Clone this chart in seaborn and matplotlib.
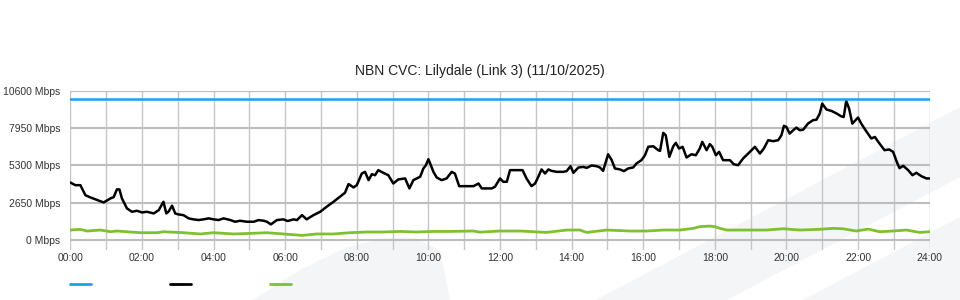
import numpy as np
import pandas as pd
import seaborn as sns
import matplotlib
matplotlib.use("Agg")
import matplotlib.pyplot as plt
from matplotlib.patches import Polygon
from matplotlib.lines import Line2D

sns.set_style("white")
plt.rcParams['font.family'] = ['Liberation Sans', 'DejaVu Sans']

# ---------------- data ----------------
title = "NBN CVC: Lilydale (Link 3) (11/10/2025)"
y_ticks = [0, 2650, 5300, 7950, 10600]
y_tick_labels = ["0 Mbps", "2650 Mbps", "5300 Mbps", "7950 Mbps", "10600 Mbps"]
x_ticks = [0, 2, 4, 6, 8, 10, 12, 14, 16, 18, 20, 22, 24]
x_tick_labels = ["00:00", "02:00", "04:00", "06:00", "08:00", "10:00", "12:00",
                 "14:00", "16:00", "18:00", "20:00", "22:00", "24:00"]

capacity_hours = [0, 24]
capacity_mbps = [10000, 10000]

traffic_hours = [0.00, 0.14, 0.28, 0.42, 0.56, 0.93, 1.12, 1.21, 1.30, 1.37, 1.44, 1.58,
                 1.72, 1.86, 2.00, 2.14, 2.33, 2.47, 2.60, 2.68, 2.74, 2.84, 2.93, 3.02,
                 3.16, 3.30, 3.44, 3.58, 3.72, 3.86, 4.00, 4.14, 4.28, 4.47, 4.60, 4.74,
                 4.93, 5.12, 5.26, 5.40, 5.49, 5.60, 5.77, 5.95, 6.07, 6.23, 6.33, 6.47,
                 6.60, 6.79, 6.98, 7.16, 7.35, 7.53, 7.67, 7.77, 7.91, 8.00, 8.14, 8.23,
                 8.33, 8.42, 8.51, 8.60, 8.74, 8.88, 9.02, 9.16, 9.35, 9.47, 9.58, 9.77,
                 9.86, 9.93, 10.00, 10.05, 10.14, 10.23, 10.37, 10.51, 10.65, 10.74, 10.86,
                 11.07, 11.26, 11.40, 11.49, 11.63, 11.77, 11.86, 12.00, 12.09, 12.19,
                 12.28, 12.47, 12.63, 12.74, 12.88, 12.98, 13.07, 13.16, 13.26, 13.35,
                 13.44, 13.58, 13.77, 13.86, 13.97, 14.05, 14.19, 14.33, 14.42, 14.56,
                 14.70, 14.79, 14.88, 15.02, 15.12, 15.21, 15.35, 15.46, 15.58, 15.72,
                 15.81, 15.95, 16.05, 16.14, 16.28, 16.42, 16.47, 16.56, 16.63, 16.73,
                 16.84, 16.91, 17.00, 17.10, 17.21, 17.35, 17.47, 17.58, 17.65, 17.77,
                 17.86, 17.93, 18.03, 18.12, 18.23, 18.42, 18.53, 18.65, 18.79, 18.98,
                 19.12, 19.26, 19.37, 19.49, 19.63, 19.77, 19.86, 19.93, 20.00, 20.09,
                 20.19, 20.28, 20.37, 20.47, 20.60, 20.74, 20.84, 20.93, 21.00, 21.12,
                 21.26, 21.40, 21.53, 21.60, 21.67, 21.75, 21.84, 22.00, 22.09, 22.21,
                 22.37, 22.47, 22.60, 22.74, 22.87, 22.98, 23.09, 23.16, 23.26, 23.40,
                 23.52, 23.63, 23.77, 23.91, 24.00]
traffic_mbps = [4090, 3900, 3900, 3190, 3030, 2670, 2960, 3050, 3600, 3600, 2960, 2250,
                2010, 2080, 1960, 2010, 1890, 2130, 2720, 1890, 2010, 2440, 1890, 1820,
                1770, 1540, 1470, 1420, 1470, 1540, 1470, 1420, 1540, 1420, 1300, 1370,
                1300, 1300, 1420, 1370, 1300, 1110, 1420, 1470, 1350, 1470, 1420, 1770,
                1470, 1770, 2010, 2370, 2720, 3080, 3360, 3980, 3740, 3900, 4730, 4850,
                4260, 4680, 4610, 4970, 4780, 4610, 4020, 4310, 4380, 3670, 4260, 4500,
                5090, 5320, 5750, 5440, 4850, 4450, 4260, 4380, 4850, 4730, 3830,
                3830, 3830, 4020, 3670, 3670, 3670, 3790, 4380, 4140, 4140,
                4970, 4970, 4970, 4380, 3830, 4020, 4500, 5020, 4730, 5020,
                4920, 4850, 4850, 4900, 5250, 4780, 5160, 5200, 5130, 5300,
                5250, 5160, 4920, 6100, 5680, 5090, 5020, 4900, 5090, 5160,
                5440, 5680, 6030, 6630, 6670, 6390, 6340, 7620, 7450, 5920,
                6670, 6910, 6510, 6630, 5870, 6100, 6030, 6510, 6980, 6390,
                6820, 6630, 6030, 6270, 5680, 5680, 5390, 5320, 5800, 6270,
                6630, 6150, 6510, 7100, 7030, 7100, 7450, 8120, 8040, 7570,
                7810, 8000, 7810, 7850, 8280, 8520, 8560, 8990, 9700, 9280,
                9180, 9000, 8800, 8750, 9890, 9350, 8280, 8710, 8280, 7810,
                7220, 7330, 6860, 6390, 6440, 6270, 5510, 5110, 5280, 4970,
                4610, 4780, 4540, 4380, 4380]

upload_hours = [0.00, 0.28, 0.47, 0.84, 1.12, 1.30, 1.95, 2.42, 2.60, 3.16, 3.63, 4.00,
                4.56, 5.02, 5.49, 5.95, 6.47, 6.88, 7.35, 7.81, 8.28, 8.74, 9.21, 9.67,
                10.14, 10.60, 11.26, 11.44, 12.00, 12.56, 13.30, 13.86, 14.23, 14.42,
                14.98, 15.63, 16.09, 16.56, 17.02, 17.40, 17.58, 17.86, 18.00, 18.14,
                18.33, 18.88, 19.44, 19.91, 20.37, 20.93, 21.30, 21.58, 21.95, 22.28,
                22.60, 22.98, 23.35, 23.72, 24.00]
upload_mbps = [710, 757, 640, 710, 590, 640, 520, 520, 590, 520, 430, 520,
               430, 470, 520, 430, 330, 430, 430, 520, 570, 570, 610, 570,
               610, 610, 640, 560, 640, 640, 540, 710, 710, 540,
               710, 640, 640, 710, 710, 830, 950, 990, 950, 830,
               710, 710, 710, 800, 710, 760, 830, 800, 640, 780,
               590, 640, 710, 540, 590]

# ---------------- style ----------------
BLUE = "#1aa3e8"
BLACK = "#000000"
GREEN = "#7fc031"
WM = "#f4f5f7"

fig = plt.figure(figsize=(9.6, 3.0), dpi=100)

# background watermark (figure pixel coordinates)
bg = fig.add_axes([0, 0, 1, 1], zorder=0)
bg.set_xlim(0, 960)
bg.set_ylim(300, 0)
bg.axis("off")
watermark = [
    [(253, 300), (300, 270), (345, 248), (385, 238), (415, 238), (440, 250), (450, 300)],
    [(596, 300), (960, 107), (960, 177), (727, 300)],
    [(803, 300), (960, 217), (960, 300)],
]
for pts in watermark:
    bg.add_patch(Polygon(pts, closed=True, facecolor=WM, edgecolor="none"))

ax = fig.add_axes([70 / 960, 50 / 300, 860 / 960, 159.3 / 300], zorder=1)
ax.set_facecolor("none")

cap_df = pd.DataFrame({"hour": capacity_hours, "mbps": capacity_mbps})
tr_df = pd.DataFrame({"hour": traffic_hours, "mbps": traffic_mbps})
up_df = pd.DataFrame({"hour": upload_hours, "mbps": upload_mbps})

sns.lineplot(data=up_df, x="hour", y="mbps", ax=ax, color=GREEN, lw=2, zorder=3)
sns.lineplot(data=tr_df, x="hour", y="mbps", ax=ax, color=BLACK, lw=1.8, zorder=4)
sns.lineplot(data=cap_df, x="hour", y="mbps", ax=ax, color=BLUE, lw=1.8, zorder=5)

ax.set_xlim(-0.01, 24.01)
ax.set_ylim(-710, 10620)
ax.set_xticks(x_ticks)
ax.set_xticklabels(x_tick_labels)
ax.set_xticks(list(range(25)), minor=True)
ax.set_yticks(y_ticks)
ax.set_yticklabels(y_tick_labels)
ax.set_xlabel("")
ax.set_ylabel("")
ax.grid(which="both", axis="x", color="#c6c6c6", lw=1.0, zorder=1)
ax.grid(which="major", axis="y", color="#bdbdbd", lw=1.5, zorder=1)
ax.set_axisbelow(True)
for s in ax.spines.values():
    s.set_visible(False)
ax.tick_params(axis="both", which="both", length=0, labelsize=7.5, labelcolor="#333333")
ax.tick_params(axis="x", pad=2)
ax.tick_params(axis="y", pad=7)

fig.text(480 / 960, 1 - 71 / 300, title, ha="center", va="center",
         fontsize=10, color="#222222")

handles = [Line2D([], [], color=BLUE, lw=2),
           Line2D([], [], color=BLACK, lw=2),
           Line2D([], [], color=GREEN, lw=2)]
fig.legend(handles=handles, labels=["", "", ""], loc="center left",
           bbox_to_anchor=(70 / 960, 1 - 285 / 300), ncol=3, frameon=False,
           handlelength=1.51, handletextpad=0, columnspacing=5.69,
           borderpad=0, borderaxespad=0, fontsize=10)

fig.savefig("out.png", dpi=100)
